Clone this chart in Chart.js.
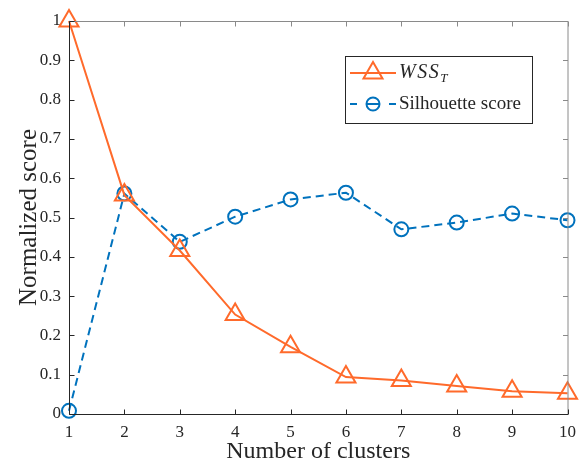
<!DOCTYPE html>
<html>
<head>
<meta charset="utf-8">
<script src="https://cdn.jsdelivr.net/npm/chart.js@4/dist/chart.umd.min.js"></script>
<style>
  html, body { margin: 0; padding: 0; background: #fff; }
  #wrap { width: 584px; height: 464px; }
</style>
</head>
<body>
<div id="wrap"><canvas id="myChart" width="584" height="464"></canvas></div>
<script>
// values
var clusters = [1, 2, 3, 4, 5, 6, 7, 8, 9, 10];
var wss = [1.0, 0.557, 0.416, 0.253, 0.171, 0.094, 0.085, 0.071, 0.058, 0.053];
var silhouette = [0.008, 0.561, 0.438, 0.502, 0.546, 0.563, 0.470, 0.487, 0.510, 0.493];

var orange = "#FF6A2B";
var blue = "#0072BD";
var serif = "'Liberation Serif', 'Times New Roman', serif";

function pts(ys) {
  return clusters.map(function (c, i) { return {x: c, y: ys[i]}; });
}

// box around plot plus inward ticks, like matlab, and the legend
var boxPlugin = {
  id: "box",
  afterDraw: function (chart) {
    var c = chart.ctx, a = chart.chartArea;
    var xs = chart.scales.x, ys = chart.scales.y;
    var L = a.left + 0.5, R = a.right + 0.5, T = a.top + 0.5, B = a.bottom + 0.5;
    c.save();
    c.lineWidth = 1;
    // top + right lighter
    c.strokeStyle = "#8a8a8a";
    c.beginPath();
    c.moveTo(L, T); c.lineTo(R, T); c.lineTo(R, B);
    xs.ticks.forEach(function (t) {
      var px = Math.round(xs.getPixelForValue(t.value)) + 0.5;
      c.moveTo(px, T); c.lineTo(px, T + 5);
    });
    ys.ticks.forEach(function (t) {
      var py = Math.round(ys.getPixelForValue(t.value)) + 0.5;
      c.moveTo(R, py); c.lineTo(R - 5, py);
    });
    c.stroke();
    c.strokeStyle = "#262626";
    c.beginPath();
    c.moveTo(L, T); c.lineTo(L, B); c.lineTo(R, B);
    xs.ticks.forEach(function (t) {
      var px = Math.round(xs.getPixelForValue(t.value)) + 0.5;
      c.moveTo(px, B); c.lineTo(px, B - 5);
    });
    ys.ticks.forEach(function (t) {
      var py = Math.round(ys.getPixelForValue(t.value)) + 0.5;
      c.moveTo(L, py); c.lineTo(L + 5, py);
    });
    c.stroke();

    // legend
    var lx = 345, ly = 56, lw = 187, lh = 67;
    c.fillStyle = "#fff";
    c.fillRect(lx, ly, lw, lh);
    c.strokeStyle = "#262626";
    c.strokeRect(lx + 0.5, ly + 0.5, lw, lh);
    var y1 = 73, y2 = 104, mx = 373;
    c.lineWidth = 2;
    c.strokeStyle = orange;
    c.beginPath();
    c.moveTo(350, y1); c.lineTo(396, y1);
    c.moveTo(mx, y1 - 11); c.lineTo(mx + 9.5, y1 + 5.5); c.lineTo(mx - 9.5, y1 + 5.5); c.closePath();
    c.stroke();
    c.strokeStyle = blue;
    c.beginPath();
    c.moveTo(350, y2); c.lineTo(357, y2);
    c.moveTo(367, y2); c.lineTo(379, y2);
    c.moveTo(389, y2); c.lineTo(396, y2);
    c.stroke();
    c.beginPath();
    c.arc(mx, y2, 6.5, 0, Math.PI * 2);
    c.stroke();

    c.fillStyle = "#262626";
    c.textBaseline = "middle";
    c.font = "italic 20px " + serif;
    var x0 = 399;
    ["W", "S", "S"].forEach(function (ch) {
      c.fillText(ch, x0, y1);
      x0 += c.measureText(ch).width + 1.5;
    });
    c.font = "italic 13px " + serif;
    c.fillText("T", x0, y1 + 6);
    c.font = "19px " + serif;
    c.fillText("Silhouette score", 399, y2);
    c.restore();
  }
};

var ctx = document.getElementById("myChart");
var myChart = new Chart(ctx, {
  type: "line",
  data: {
    datasets: [
      {
        label: "WSS_T",
        data: pts(wss),
        borderColor: orange,
        backgroundColor: "transparent",
        borderWidth: 2,
        pointStyle: "triangle",
        pointRadius: 11,
        pointBorderWidth: 2,
        pointBorderColor: orange,
        pointBackgroundColor: "transparent",
        tension: 0
      },
      {
        label: "Silhouette score",
        data: pts(silhouette),
        borderColor: blue,
        backgroundColor: "transparent",
        borderWidth: 2,
        borderDash: [8, 5],
        pointStyle: "circle",
        pointRadius: 7,
        pointBorderWidth: 2,
        pointBorderColor: blue,
        pointBackgroundColor: "transparent",
        tension: 0
      }
    ]
  },
  options: {
    responsive: false,
    animation: false,
    clip: false,
    layout: {padding: {left: 0, right: 15, top: 21, bottom: 0}},
    plugins: {legend: {display: false}, tooltip: {enabled: false}},
    scales: {
      x: {
        type: "linear",
        min: 1, max: 10,
        grid: {display: false, drawTicks: false},
        border: {display: false},
        ticks: {stepSize: 1, color: "#262626", padding: 8, font: {family: serif, size: 17}},
        title: {display: true, text: "Number of clusters", color: "#262626", padding: {top: 0, bottom: 0}, font: {family: serif, size: 24, lineHeight: 1}},
        afterFit: function (s) { s.height = 50; }
      },
      y: {
        min: 0, max: 1,
        grid: {display: false, drawTicks: false},
        border: {display: false},
        ticks: {
          stepSize: 0.1, color: "#262626", padding: 8, font: {family: serif, size: 17},
          callback: function (v) { return String(Math.round(v * 10) / 10); }
        },
        title: {display: true, text: "Normalized score", color: "#262626", padding: {top: 17, bottom: 0}, font: {family: serif, size: 25, lineHeight: 1}},
        afterFit: function (s) { s.width = 69; }
      }
    }
  },
  plugins: [boxPlugin]
});
</script>
</body>
</html>
